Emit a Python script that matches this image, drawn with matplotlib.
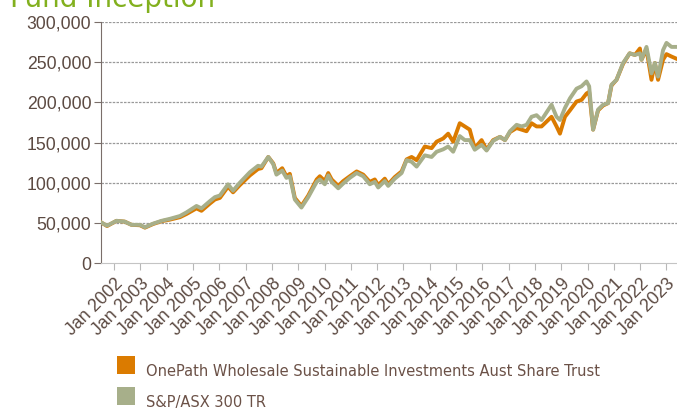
import matplotlib
matplotlib.use("Agg")
import matplotlib.pyplot as plt
from matplotlib.patches import Rectangle
from matplotlib.ticker import FuncFormatter

# decimal years, values in thousands of dollars
years = [2001.53, 2001.73, 2002.09, 2002.40, 2002.66, 2002.98, 2003.17, 2003.48, 2003.80,
         2004.12, 2004.50, 2004.75, 2005.13, 2005.32, 2005.64, 2005.83, 2006.02, 2006.33,
         2006.52, 2006.78, 2007.16, 2007.47, 2007.60, 2007.86, 2008.05, 2008.17, 2008.39,
         2008.55, 2008.68, 2008.87, 2009.12, 2009.38, 2009.70, 2009.82, 2010.01, 2010.14,
         2010.27, 2010.52, 2010.71, 2010.96, 2011.22, 2011.47, 2011.72, 2011.91, 2012.04,
         2012.29, 2012.42, 2012.67, 2012.93, 2013.12, 2013.31, 2013.50, 2013.81, 2014.07,
         2014.26, 2014.51, 2014.70, 2014.89, 2015.14, 2015.33, 2015.52, 2015.71, 2015.97,
         2016.16, 2016.41, 2016.67, 2016.86, 2017.05, 2017.30, 2017.49, 2017.68, 2017.87,
         2018.06, 2018.25, 2018.63, 2018.82, 2018.95, 2019.14, 2019.33, 2019.58, 2019.77,
         2019.96, 2020.06, 2020.21, 2020.40, 2020.59, 2020.78, 2020.91, 2021.10, 2021.35,
         2021.60, 2021.80, 2021.99, 2022.05, 2022.24, 2022.43, 2022.56, 2022.68, 2022.87,
         2023.00, 2023.19, 2023.40]

onepath = [50, 46, 52.5, 51.5, 47.5, 47, 44, 48.5, 52,
           54, 57, 61, 68, 65, 74, 79, 81, 95,
           88, 97, 109, 117, 118, 132, 124, 112, 118,
           108, 111, 81, 71, 84, 104, 108, 102, 112,
           104, 96, 102, 108, 114, 110, 101, 104, 97,
           105, 98, 107, 114, 129, 132, 128, 145, 143,
           151, 155, 161, 151, 174, 170, 166, 143, 153,
           141, 153, 157, 153, 163, 168, 166, 164, 174,
           170, 170, 182, 170, 161, 182, 190, 201, 203,
           211, 213, 166, 190, 196, 199, 221, 228, 248,
           261, 259, 267, 253, 266, 228, 249, 228, 253,
           260, 257, 254]

asx300 = [50, 46.5, 52.5, 51.5, 47.5, 47.5, 44.5, 49, 52.5,
          55, 58.5, 63, 71, 68, 77, 82, 84, 98,
          90, 100, 113, 121, 120, 132, 123, 110, 115,
          106, 108, 79, 69, 82, 101, 104, 98, 109,
          101, 93, 99, 106, 112, 108, 98, 101, 94,
          102, 96, 105, 112, 128, 126, 120, 134, 132,
          138.5, 141.5, 145, 138.5, 158, 153, 153, 141, 147,
          140, 152, 157, 153, 164, 172, 170, 172, 182,
          184, 178, 197, 182, 178, 193, 205, 217, 220,
          226, 220, 166, 191, 197, 199, 222, 228, 249,
          261, 259, 261, 253, 269, 236, 249, 232, 265,
          274, 269, 269]

series_names = ["OnePath Wholesale Sustainable Investments Aust Share Trust",
                "S&P/ASX 300 TR"]
series_colors = ["#DB7B00", "#A7AF8A"]
tick_years = list(range(2002, 2024))
tick_labels = ["Jan %d" % y for y in tick_years]

text_col = "#5c4a42"

fig = plt.figure(figsize=(6.77, 4.08), dpi=100)
ax = fig.add_axes([101 / 677, 1 - 263 / 408, 1 - 101 / 677, 241 / 408])

ax.plot(years, [v * 1000 for v in onepath], color=series_colors[0], lw=2.8,
        solid_joinstyle="round", zorder=3)
ax.plot(years, [v * 1000 for v in asx300], color=series_colors[1], lw=2.8,
        solid_joinstyle="round", zorder=4)

ax.set_xlim(2001.5, 2023.4)
ax.set_ylim(0, 300000)
ax.set_yticks(range(0, 300001, 50000))
ax.yaxis.set_major_formatter(FuncFormatter(lambda v, p: "{:,.0f}".format(v)))
ax.set_xticks(tick_years)
ax.set_xticklabels(tick_labels, rotation=45, ha="right", va="top",
                   rotation_mode="anchor")

for lab in ax.get_xticklabels() + ax.get_yticklabels():
    lab.set_fontfamily("Liberation Sans")
    lab.set_fontsize(12.7)
    lab.set_color(text_col)

ax.tick_params(axis="y", length=5, color="#7a6e6a", pad=2)
ax.tick_params(axis="x", length=5, color="#b8b8b8", pad=4)

for yv in range(50000, 300001, 50000):
    ax.axhline(yv, color="#999999", lw=0.9, ls=(0, (2, 1)), zorder=1)

for s in ["top", "right"]:
    ax.spines[s].set_visible(False)
ax.spines["left"].set_color("#7a6e6a")
ax.spines["bottom"].set_color("#c4c4c4")

# title sits mostly above the canvas, as in the source image
fig.text(10 / 677, 1 - 7 / 408, "Fund Inception", color="#82B01E",
         fontsize=20, family="DejaVu Sans", va="baseline", ha="left")

# legend drawn by hand
for i, (name, col) in enumerate(zip(series_names, series_colors)):
    ytop = 356 + i * 31
    fig.patches.append(Rectangle((117 / 677, 1 - (ytop + 18) / 408), 18 / 677, 18 / 408,
                                 transform=fig.transFigure, facecolor=col,
                                 edgecolor="none"))
    fig.text(146 / 677, 1 - (ytop + 15) / 408, name, color="#6b5147",
             fontsize=10.5, family="DejaVu Sans", va="center", ha="left")

fig.savefig("out.png", dpi=100)
